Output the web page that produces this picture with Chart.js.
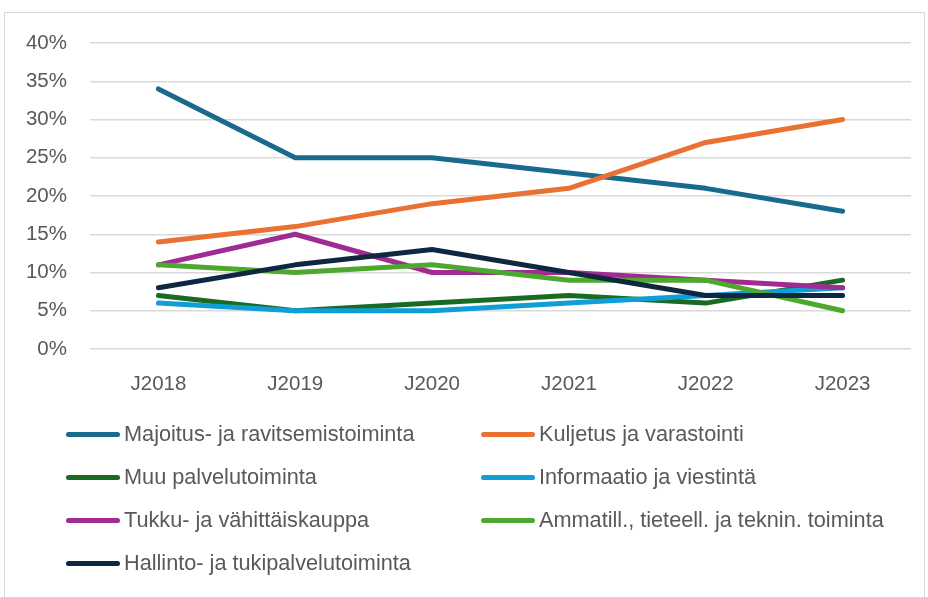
<!DOCTYPE html>
<html><head><meta charset="utf-8">
<script src="https://cdn.jsdelivr.net/npm/chart.js@4/dist/chart.umd.min.js"></script>
<style>
html,body{margin:0;padding:0;background:#fff;}
#frame{position:absolute;left:4px;top:12px;width:921px;height:590px;border:1px solid #d9d9d9;box-sizing:border-box;}
#wrap{position:absolute;left:0;top:0;width:928px;height:400px;}
#legend{position:absolute;left:0;top:0;width:928px;height:597px;pointer-events:none;font-family:'Liberation Sans',sans-serif;font-size:21.7px;color:#595959;}
.item{position:absolute;display:flex;align-items:center;white-space:nowrap;}
.sw{width:54px;height:5px;border-radius:3px;margin-right:4px;}
</style></head>
<body>
<div id="frame"></div>
<div id="wrap"><canvas id="c" width="928" height="400"></canvas></div>
<div id="legend"></div>
<script>
const categories = ['J2018','J2019','J2020','J2021','J2022','J2023'];
const seriesNames = ['Majoitus- ja ravitsemistoiminta','Kuljetus ja varastointi','Muu palvelutoiminta','Informaatio ja viestintä','Tukku- ja vähittäiskauppa','Ammatill., tieteell. ja teknin. toiminta','Hallinto- ja tukipalvelutoiminta'];
const majoitus = [34,25,25,23,21,18];
const kuljetus = [14,16,19,21,27,30];
const muu = [7,5,6,7,6,9];
const informaatio = [6,5,5,6,7,8];
const tukku = [11,15,10,10,9,8];
const ammatill = [11,10,11,9,9,5];
const hallinto = [8,11,13,10,7,7];
const yTicks = [0,5,10,15,20,25,30,35,40];
const colors = ['#196B8E','#E97132','#196B24','#0F9ED5','#A02B93','#4EA72E','#0E2841'];
const values = [majoitus,kuljetus,muu,informaatio,tukku,ammatill,hallinto];

const datasets = values.map((v,i)=>({
  label: seriesNames[i], data: v, borderColor: colors[i], backgroundColor: colors[i],
  borderWidth: 5, pointRadius: 0, borderCapStyle:'round', borderJoinStyle:'round', tension:0, fill:false,
  order: 7-i
}));
const font = {family:"'Liberation Sans',sans-serif", size:20.5};
new Chart(document.getElementById('c'), {
  type:'line',
  data:{labels:categories, datasets},
  options:{
    responsive:false, animation:false, devicePixelRatio:1,
    layout:{padding:{top:43,right:17,left:0,bottom:0}},
    plugins:{legend:{display:false}, tooltip:{enabled:false}},
    scales:{
      x:{offset:true, grid:{display:false}, border:{display:false},
         ticks:{color:'#595959', font, padding:15},
         afterFit:s=>{s.height=51;}},
      y:{min:0,max:40, grid:{color:'#d9d9d9', lineWidth:1.5, drawTicks:false}, border:{display:false},
         afterBuildTicks:s=>{s.ticks=yTicks.map(v=>({value:v}));},
         ticks:{color:'#595959', font, padding:23, callback:v=>v+'%'},
         afterFit:s=>{s.width=90;}}
    }
  }
});
const leg = document.getElementById('legend');
const pos = [[66,434],[481,434],[66,477],[481,477],[66,520],[481,520],[66,563]];
seriesNames.forEach((n,i)=>{
  const d=document.createElement('div'); d.className='item';
  d.style.left=pos[i][0]+'px'; d.style.top=(pos[i][1]-12)+'px'; d.style.height='24px';
  d.innerHTML='<span class="sw" style="background:'+colors[i]+'"></span><span>'+n+'</span>';
  leg.appendChild(d);
});
</script>
</body></html>
